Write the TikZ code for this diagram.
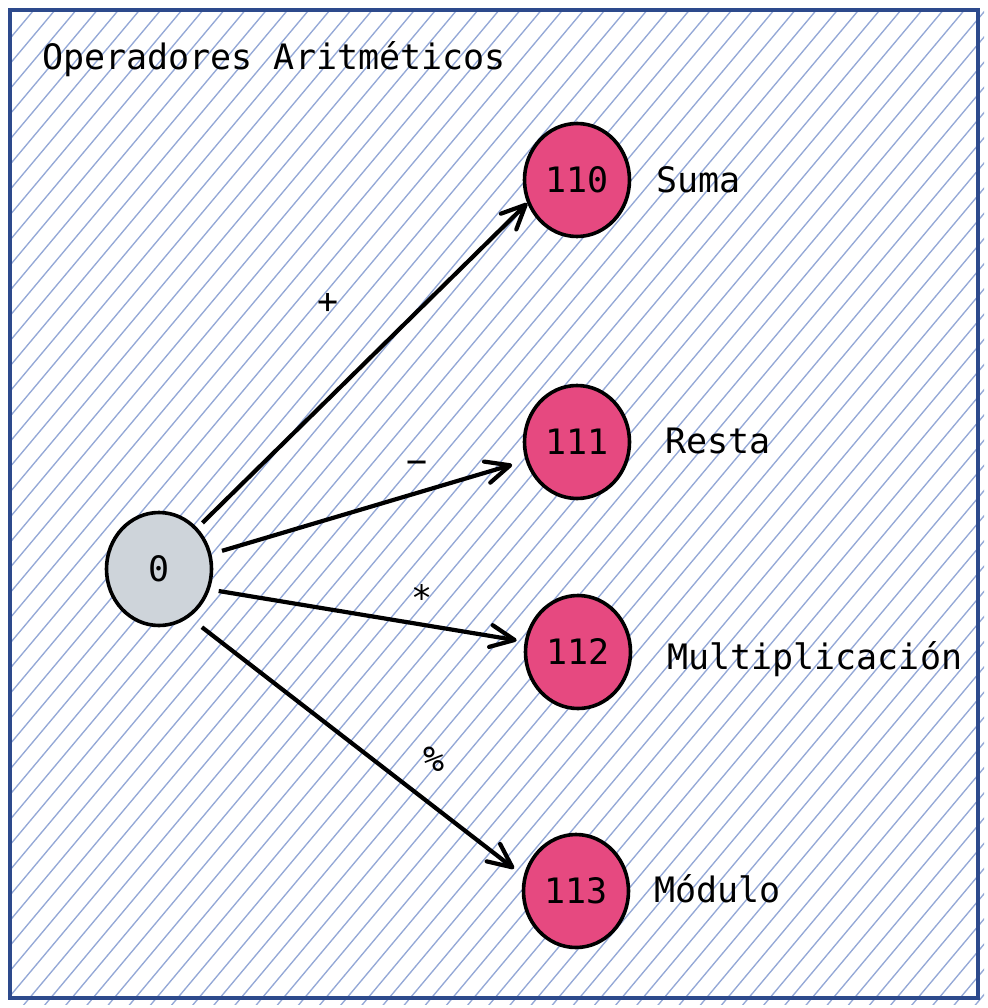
\documentclass[tikz,border=0pt]{standalone}
\usepackage{fontspec}
\setmainfont{DejaVu Sans Mono}
\usetikzlibrary{shapes.geometric,arrows.meta}
\definecolor{hatchc}{RGB}{148,168,214}
\definecolor{framec}{RGB}{45,74,140}
\definecolor{pinkc}{RGB}{230,73,128}
\definecolor{grayc}{RGB}{206,212,218}
\begin{document}
\begin{tikzpicture}[x=1pt,y=-1pt,
  hatch/.style={hatchc, line width=1.35pt},
  frame/.style={draw=framec, line width=4pt},
  state/.style={ellipse, draw=black, line width=3.6pt, minimum width=105pt, minimum height=113pt, inner sep=0pt, font=\fontsize{35}{42}\selectfont},
  opnode/.style={state, fill=pinkc},
  startnode/.style={state, fill=grayc},
  lbl/.style={anchor=base west, inner sep=0pt, font=\fontsize{35}{42}\selectfont},
  oplbl/.style={inner sep=0pt, font=\fontsize{35}{42}\selectfont},
  conn/.style={line width=4.2pt, -{Straight Barb[length=24pt,width=22pt,line cap=round,line join=round]}}
]
\useasboundingbox (0,0) rectangle (987,1008);
\begin{scope}
  \clip (11,11) rectangle (984,1004);
  \foreach \c in {0,16.2,...,1450} \draw[hatch] ({\c/0.766},0) -- ({(\c-649.3)/0.766},1010);
\end{scope}
\draw[frame] (10,10) rectangle (978,998);

\node[startnode] (n0) at (159,569) {0};
\node[opnode] (n110) at (577,180) {110};
\node[opnode] (n111) at (577,442) {111};
\node[opnode] (n112) at (578,652) {112};
\node[opnode] (n113) at (576,891) {113};

\node[lbl] (title) at (42,70) {Operadores Aritméticos};
\node[lbl] (lsuma) at (656,193) {Suma};
\node[lbl] (lresta) at (665,453) {Resta};
\node[lbl] (lmult) at (667,669) {Multiplicación};
\node[lbl] (lmod) at (654,902) {Módulo};

\node[oplbl] (lplus) at (328,303) {+};
\node[oplbl] (lminus) at (417,467) {−};
\node[oplbl] (ltimes) at (422,598) {*};
\node[oplbl] (lmodop) at (434,759) {\%};

\draw[conn, shorten <=7pt] (n0.47) -- (n110.205);
\draw[conn, shorten <=11pt, shorten >=14pt] (n0.16) -- (n111.200);
\draw[conn, shorten <=9pt, shorten >=8pt] (n0.338) -- (n112.169);
\draw[conn, shorten <=16pt, shorten >=12pt] (n0.302) -- (n113.164);
\end{tikzpicture}
\end{document}
